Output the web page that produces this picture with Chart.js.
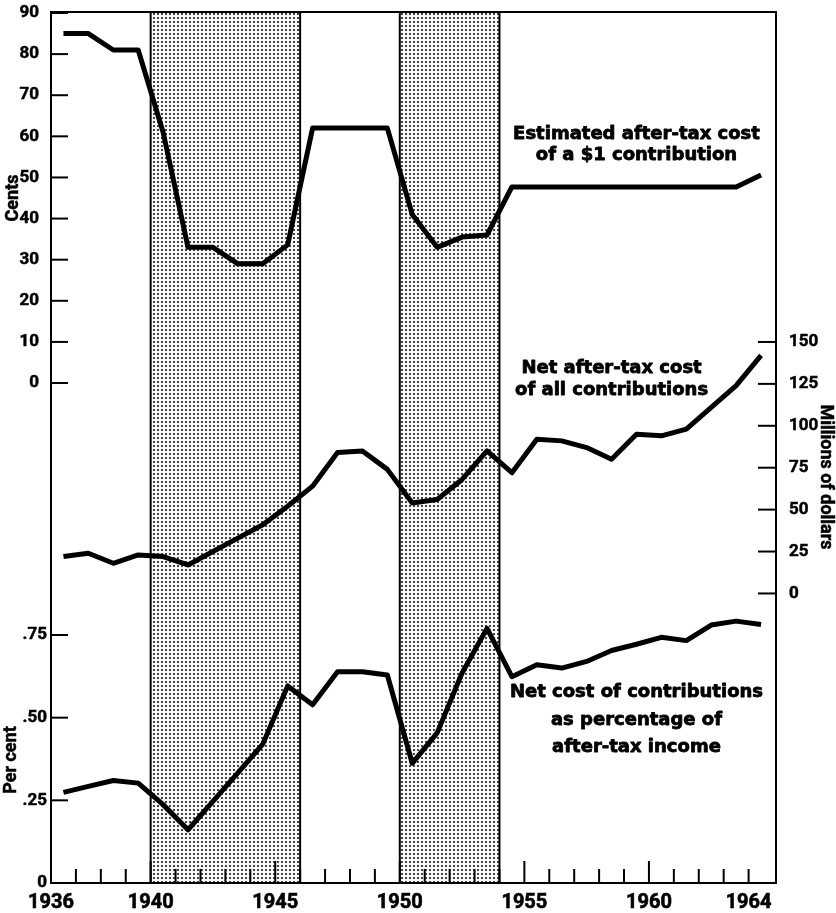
<!DOCTYPE html>
<html>
<head>
<meta charset="utf-8">
<script src="https://cdn.jsdelivr.net/npm/chart.js@4.4.1/dist/chart.umd.min.js"></script>
<style>
  html, body { margin: 0; padding: 0; background: #fff; }
  #Chart__Wrap { width: 836px; height: 913px; }
</style>
</head>
<body>
<div id="Chart__Wrap"><canvas id="Cost__Chart" width="836" height="913"></canvas></div>
<script>
/* Years of the series (each value is plotted at mid-year) */
const years = [1936,1937,1938,1939,1940,1941,1942,1943,1944,1945,1946,1947,1948,1949,1950,
  1951,1952,1953,1954,1955,1956,1957,1958,1959,1960,1961,1962,1963,1964];
/* Estimated after-tax cost of a $1 contribution, cents */
const centsCost = [85,85,81,81,61,33,33,29,29,33.6,62,62,62,62,41,33,35.5,36,47.7,47.7,47.7,
  47.7,47.7,47.7,47.7,47.7,47.7,47.7,50.6];
/* Net after-tax cost of all contributions, millions of dollars */
const netCost = [22,24,18,23,22,17,25,33,41,52,64,84,85,74,54,56,68,85,72,92,91,87,80,95,94,
  98,111,124,142];
/* Net cost of contributions as percentage of after-tax income */
const pctIncome = [.274,.292,.31,.302,.237,.161,.247,.333,.42,.596,.539,.639,.639,.629,.362,
  .454,.635,.77,.624,.66,.65,.67,.703,.722,.743,.733,.78,.792,.782];

/* Shaded periods */
const shadeStarts = [1940, 1950];
const shadeEnds = [1946, 1954];

/* Tick values and labels */
const yearTicks = [1936,1940,1945,1950,1955,1960,1964];
const centsTicks = [0,10,20,30,40,50,60,70,80,90];
const millionsTicks = [0,25,50,75,100,125,150];
const pctTicks = [0,.25,.5,.75];
const pctTickLabels = ['0','.25','.50','.75'];

const TickFamily = "Roboto, 'Liberation Sans', sans-serif";
const TickFont = "bold 17px " + TickFamily;
const NoteFont = "bold 18px 'DejaVu Sans', sans-serif";

const canvas = document.getElementById("Cost__Chart");
const ctx = canvas.getContext("2d");

/* halftone dots used for the shaded periods */
function makeDotPattern(){
  const c = document.createElement("canvas");
  c.width = 4; c.height = 4;
  const g = c.getContext("2d");
  g.fillStyle = "#f8f8f8";
  g.fillRect(0, 0, 4, 4);
  g.fillStyle = "#444";
  g.fillRect(1, 1, 2, 2);
  return ctx.createPattern(c, "repeat");
}
const DotPattern = makeDotPattern();

function toPoints(values){
  return values.map((v, i) => ({ x: years[i] + 0.5, y: v }));
}

function line(x1, y1, x2, y2){
  ctx.beginPath();
  ctx.moveTo(x1, y1);
  ctx.lineTo(x2, y2);
  ctx.stroke();
}

/* draw text with a thin outline so it looks heavier */
function heavyText(c, text, x, y, w){
  c.lineWidth = w;
  c.lineJoin = "round";
  c.fillText(text, x, y);
  c.strokeText(text, x, y);
}

/* Text notes placed in axis units */
const notes = [
  { axis: "yC", x: 1959.5, y: 59.4, text: "Estimated after-tax cost" },
  { axis: "yC", x: 1959.5, y: 54.3, text: "of a $1 contribution" },
  { axis: "yM", x: 1958.5, y: 131.5, text: "Net after-tax cost" },
  { axis: "yM", x: 1958.5, y: 118.2, text: "of all contributions" },
  { axis: "yP", x: 1959.5, y: 0.5625, text: "Net cost of contributions" },
  { axis: "yP", x: 1959.5, y: 0.478, text: "as percentage of" },
  { axis: "yP", x: 1959.5, y: 0.396, text: "after-tax income" }
];

const DecorPlugin = {
  id: "Cost__Decor",
  beforeDatasetsDraw(chart){
    const a = chart.chartArea;
    const sx = chart.scales.x;
    const c = chart.ctx;
    c.save();
    shadeStarts.forEach((start, i) => {
      const x1 = sx.getPixelForValue(start);
      const x2 = sx.getPixelForValue(shadeEnds[i]);
      c.fillStyle = DotPattern;
      c.fillRect(x1, a.top, x2 - x1, a.bottom - a.top);
      c.strokeStyle = "#000";
      c.lineWidth = 2;
      line(x1, a.top, x1, a.bottom);
      line(x2, a.top, x2, a.bottom);
    });
    c.restore();
  },
  afterDraw(chart){
    const a = chart.chartArea;
    const sx = chart.scales.x, sC = chart.scales.yC, sM = chart.scales.yM, sP = chart.scales.yP;
    const c = chart.ctx;
    c.save();
    /* frame */
    c.strokeStyle = "#000";
    c.lineWidth = 2;
    c.strokeRect(a.left, a.top, a.right - a.left, a.bottom - a.top);

    /* inward tick marks */
    centsTicks.forEach(v => line(a.left, sC.getPixelForValue(v), a.left + 17, sC.getPixelForValue(v)));
    pctTicks.forEach(v => { if (v > 0) line(a.left, sP.getPixelForValue(v), a.left + 17, sP.getPixelForValue(v)); });
    millionsTicks.forEach(v => line(a.right - 18, sM.getPixelForValue(v), a.right, sM.getPixelForValue(v)));
    for (let yr = 1937; yr <= 1964; yr++) {
      const len = yr % 5 == 0 ? 22 : 14;
      const x = sx.getPixelForValue(yr);
      line(x, a.bottom, x, a.bottom - len);
    }

    /* per cent tick labels */
    c.fillStyle = "#000";
    c.font = TickFont;
    c.textAlign = "right";
    c.textBaseline = "middle";
    pctTicks.forEach((v, i) => heavyText(c, pctTickLabels[i], a.left - 4, sP.getPixelForValue(v), 0.5));

    /* axis titles */
    c.textAlign = "center";
    c.font = "bold 18px " + TickFamily;
    c.save();
    c.translate(13, 198);
    c.rotate(-Math.PI / 2);
    heavyText(c, "Cents", 0, 0, 0.5);
    c.restore();
    c.save();
    c.translate(11, 760);
    c.rotate(-Math.PI / 2);
    heavyText(c, "Per cent", 0, 0, 0.5);
    c.restore();
    c.save();
    c.translate(825, 477);
    c.rotate(Math.PI / 2);
    heavyText(c, "Millions of dollars", 0, 0, 0.5);
    c.restore();

    /* notes */
    c.font = NoteFont;
    c.textBaseline = "alphabetic";
    notes.forEach(n => {
      heavyText(c, n.text, sx.getPixelForValue(n.x), chart.scales[n.axis].getPixelForValue(n.y), 0.8);
    });
    c.restore();
  }
};

const seriesStyle = {
  borderColor: "#000",
  borderWidth: 5,
  pointRadius: 0,
  fill: false,
  tension: 0,
  borderJoinStyle: "round",
  borderCapStyle: "butt"
};

const tickFontOpt = { family: TickFamily, size: 17, weight: "bold" };

/* keep the plot box where the reference has it */
function noEdgePadding(s){
  s.paddingTop = 0;
  s.paddingBottom = 0;
  s.paddingLeft = 0;
  s.paddingRight = 0;
}

const CostChart = new Chart(canvas, {
  type: "line",
  plugins: [DecorPlugin],
  data: {
    datasets: [
      Object.assign({ label: "Estimated after-tax cost of a $1 contribution", data: toPoints(centsCost), yAxisID: "yC" }, seriesStyle),
      Object.assign({ label: "Net after-tax cost of all contributions", data: toPoints(netCost), yAxisID: "yM" }, seriesStyle),
      Object.assign({ label: "Net cost of contributions as percentage of after-tax income", data: toPoints(pctIncome), yAxisID: "yP" }, seriesStyle)
    ]
  },
  options: {
    responsive: false,
    animation: false,
    devicePixelRatio: 1,
    layout: { padding: { top: 12, left: 0, right: 0, bottom: 0 } },
    plugins: { legend: { display: false }, tooltip: { enabled: false } },
    scales: {
      x: {
        type: "linear",
        min: 1936,
        max: 1965.1,
        afterBuildTicks: s => { s.ticks = yearTicks.map(v => ({ value: v })); },
        afterFit: s => { s.height = 30; noEdgePadding(s); },
        ticks: {
          autoSkip: false,
          maxRotation: 0,
          padding: 0,
          color: "#000",
          textStrokeColor: "#000",
          textStrokeWidth: 0.6,
          font: { family: TickFamily, size: 20, weight: "bold" },
          callback: v => String(v)
        },
        grid: { display: false },
        border: { display: false }
      },
      yC: {
        type: "linear",
        position: "left",
        min: -121.6,
        max: 90.24,
        afterBuildTicks: s => { s.ticks = centsTicks.map(v => ({ value: v })); },
        afterFit: s => { s.width = 51; noEdgePadding(s); },
        ticks: { padding: 4, color: "#000", textStrokeColor: "#000", textStrokeWidth: 0.5, font: tickFontOpt },
        grid: { display: false },
        border: { display: false }
      },
      yM: {
        type: "linear",
        position: "right",
        min: -172.7,
        max: 346.8,
        afterBuildTicks: s => { s.ticks = millionsTicks.map(v => ({ value: v })); },
        afterFit: s => { s.width = 60; noEdgePadding(s); },
        ticks: { padding: 5, color: "#000", textStrokeColor: "#000", textStrokeWidth: 0.5, font: tickFontOpt },
        grid: { display: false },
        border: { display: false }
      },
      yP: {
        type: "linear",
        display: false,
        min: 0,
        max: 2.634
      }
    }
  }
});
</script>
</body>
</html>
